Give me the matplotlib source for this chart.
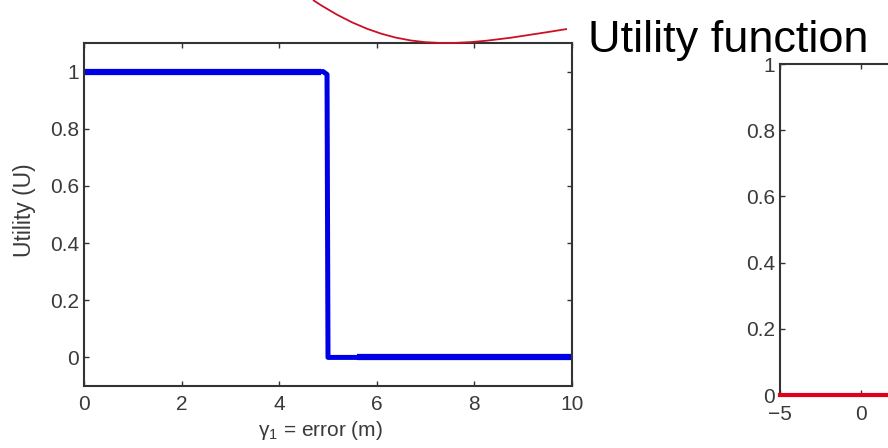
import matplotlib
matplotlib.use('Agg')
import matplotlib.pyplot as plt
from matplotlib.path import Path
from matplotlib.patches import PathPatch

plt.rcParams['font.family'] = ['Liberation Sans', 'DejaVu Sans']
plt.rcParams['mathtext.fontset'] = 'custom'
plt.rcParams['mathtext.rm'] = 'Liberation Sans'
plt.rcParams['mathtext.it'] = 'Liberation Sans:italic'
plt.rcParams['axes.unicode_minus'] = True

# ---- data ----
step_x = [0, 4.9, 4.98, 5.0, 10]
step_y = [1, 1, 0.99, 0, 0]
top_seg_x = [0, 4.85]
top_seg_y = [1, 1]
low_seg_x = [5.6, 10]
low_seg_y = [0, 0]
right_x = [-5, 20]
right_y = [0, 0]
left_xticks = [0, 2, 4, 6, 8, 10]
yticks = [0, 0.2, 0.4, 0.6, 0.8, 1]
ytick_labels = ['0', '0.2', '0.4', '0.6', '0.8', '1']
right_xticks = [-5, 0, 5, 10, 15, 20]
right_xtick_labels = ['\u22125', '0', '5', '10', '15', '20']

W, H = 888, 448
fig = plt.figure(figsize=(W / 100, H / 100), dpi=100)

SP = '#333333'
TXT = '#3a3a3a'
BLUE = '#0000e6'
RED = '#e0001a'

def style(ax, xpad, ypad):
    for s in ax.spines.values():
        s.set_color(SP)
        s.set_linewidth(1.5)
    ax.tick_params(direction='in', length=3.5, width=1, colors=SP,
                   top=True, right=True, labelsize=15, labelcolor=TXT)
    ax.tick_params(axis='x', pad=xpad)
    ax.tick_params(axis='y', pad=ypad)

# left axes
ax1 = fig.add_axes([84 / W, 1 - 386 / H, (572 - 84) / W, (386 - 43) / H])
ax1.plot(step_x, step_y, color=BLUE, lw=3.6, solid_joinstyle='round')
ax1.plot(top_seg_x, top_seg_y, color=BLUE, lw=4.5, solid_capstyle='butt')
ax1.plot(low_seg_x, low_seg_y, color=BLUE, lw=4.5, solid_capstyle='butt')
ax1.set_xlim(0, 10)
ax1.set_ylim(-0.1, 1.1)
ax1.set_xticks(left_xticks)
ax1.set_xticklabels([str(v) for v in left_xticks])
ax1.set_yticks(yticks)
ax1.set_yticklabels(ytick_labels)
style(ax1, 6.5, 3.5)
ax1.set_ylabel('Utility (U)', fontsize=16.5, color=TXT)
ax1.yaxis.set_label_coords(-0.098, 0.513)
ax1.set_xlabel(r'γ$_1$ = error (m)', fontsize=15, color=TXT)
ax1.xaxis.set_label_coords(0.484, -0.097)

# right axes (partially outside the figure)
ax2 = fig.add_axes([780 / W, 1 - 395 / H, 405 / W, (395 - 64) / H])
ax2.plot(right_x, right_y, color=RED, lw=3, clip_on=False, zorder=5)
ax2.set_xlim(-5, 20)
ax2.set_ylim(0, 1)
ax2.set_xticks(right_xticks)
ax2.set_xticklabels(right_xtick_labels)
ax2.set_yticks(yticks)
ax2.set_yticklabels(ytick_labels)
style(ax2, 7, 3.5)

# connector curve + title text
def fxy(px, py):
    return (px / W, 1 - py / H)

verts = [fxy(313, 0), fxy(400, 58), fxy(460, 46), fxy(567, 29)]
path = Path(verts, [Path.MOVETO, Path.CURVE4, Path.CURVE4, Path.CURVE4])
fig.patches.append(PathPatch(path, transform=fig.transFigure, fill=False,
                             edgecolor='#cc1024', lw=1.3, figure=fig))
fig.text(588 / W, 1 - 52 / H, 'Utility function', fontsize=32.5,
         color='black', ha='left', va='baseline')

fig.savefig('out.png', dpi=100)
